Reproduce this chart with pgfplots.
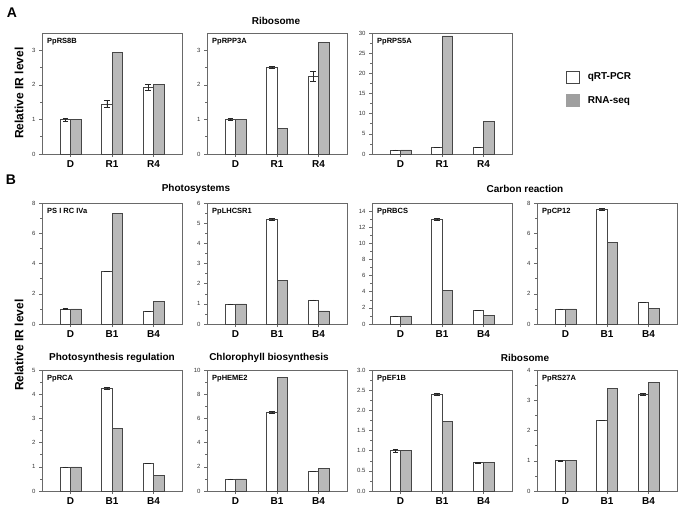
\documentclass[border=0pt]{standalone}
\usepackage{fontspec}
\setmainfont{Liberation Sans}
\usepackage{pgfplots}
\pgfplotsset{compat=1.18}

\definecolor{rnagray}{RGB}{185,185,185}
\definecolor{edgegray}{RGB}{70,70,70}
\definecolor{axisgray}{RGB}{105,105,105}

\newcommand{\fs}[1]{\fontsize{#1}{#1}\selectfont}
\newcommand{\pname}[1]{\node[anchor=north west, inner sep=0pt, font=\fs{7.5}\bfseries]
  at ([xshift=5pt,yshift=-5pt]rel axis cs:0,1) {#1};}

\pgfplotsset{
  panel/.style={
    scale only axis, width=140pt, height=121pt, anchor=south west,
    xmin=-0.69, xmax=2.69, ymin=0,
    ybar, bar width=10.5pt,
    xtick={0,1,2},
    xtick pos=lower, ytick pos=left,
    tick align=outside,
    major tick length=3pt, minor tick length=1.8pt,
    minor y tick num=1,
    axis line style={axisgray, line width=0.6pt},
    every tick/.style={axisgray, line width=0.5pt},
    x tick label style={font=\fs{10}\bfseries},
    y tick label style={font=\fs{6}, text=black!80},
    /pgf/number format/assume math mode=true,
    clip=false,
  },
  qrt/.style={fill=white, draw=edgegray, line width=0.6pt, bar shift=-5.25pt, forget plot,
    error bars/.cd, y dir=both, y explicit,
    error bar style={line width=0.5pt, black!85},
    error mark options={rotate=90, mark size=2.8pt, line width=0.5pt, black!85}},
  rna/.style={fill=rnagray, draw=edgegray, line width=0.6pt, bar shift=5.25pt, forget plot},
}

\begin{document}
\begin{tikzpicture}
\path[use as bounding box] (0pt,0pt) rectangle (685pt,512pt);

% ---------------- A ----------------
\node[font=\fs{14}\bfseries] at (12pt,499pt) {A};
\node[font=\fs{10}\bfseries] at (276pt,491pt) {Ribosome};
\node[font=\fs{12}\bfseries, rotate=90] at (19pt,419pt) {Relative IR level};

\begin{axis}[panel, at={(42pt,358pt)}, ymax=3.5, ytick={0,1,2,3}, xticklabels={D,R1,R4}]
\addplot[qrt] coordinates {(0,1.00) +- (0,0.04) (1,1.45) +- (0,0.10) (2,1.93) +- (0,0.10)};
\addplot[rna] coordinates {(0,1.00) (1,2.95) (2,2.01)};
\pname{PpRS8B}
\end{axis}

\begin{axis}[panel, at={(207pt,358pt)}, ymax=3.5, ytick={0,1,2,3}, xticklabels={D,R1,R4}]
\addplot[qrt] coordinates {(0,1.00) +- (0,0.02) (1,2.50) +- (0,0.03) (2,2.25) +- (0,0.14)};
\addplot[rna] coordinates {(0,1.00) (1,0.75) (2,3.22)};
\pname{PpRPP3A}
\end{axis}

\begin{axis}[panel, at={(372pt,358pt)}, ymax=30, ytick={0,5,...,30}, xticklabels={D,R1,R4},
  legend style={at={(1.386,0.69)}, anchor=north west, draw=none, fill=none, inner sep=0pt,
    row sep=11pt, font=\fs{10}\bfseries, legend cell align=left,
    /tikz/every odd column/.append style={column sep=6pt}}]
\addplot[qrt] coordinates {(0,1.0) +- (0,0) (1,1.6) +- (0,0) (2,1.6) +- (0,0)};
\addplot[rna] coordinates {(0,1.0) (1,29.3) (2,8.1)};
\addlegendimage{legend image code/.code={\draw[fill=white, draw=edgegray, line width=0.6pt] (0pt,-6pt) rectangle (13pt,6pt);}}
\addlegendentry{qRT-PCR}
\addlegendimage{legend image code/.code={\draw[fill=gray!75, draw=gray!75] (0pt,-6pt) rectangle (13pt,6pt);}}
\addlegendentry{RNA-seq}
\pname{PpRPS5A}
\end{axis}

% ---------------- B ----------------
\node[font=\fs{14}\bfseries] at (11pt,332pt) {B};
\node[font=\fs{10}\bfseries] at (196pt,323pt) {Photosystems};
\node[font=\fs{10}\bfseries] at (525pt,323pt) {Carbon reaction};
\node[font=\fs{10}\bfseries] at (112pt,154pt) {Photosynthesis regulation};
\node[font=\fs{10}\bfseries] at (269pt,154pt) {Chlorophyll biosynthesis};
\node[font=\fs{10}\bfseries] at (525pt,154pt) {Ribosome};
\node[font=\fs{12}\bfseries, rotate=90] at (19pt,167pt) {Relative IR level};

\begin{axis}[panel, at={(42pt,188pt)}, ymax=8, ytick={0,2,...,8}, xticklabels={D,B1,B4}]
\addplot[qrt] coordinates {(0,1.00) +- (0,0.03) (1,3.50) +- (0,0) (2,0.85) +- (0,0)};
\addplot[rna] coordinates {(0,1.00) (1,7.30) (2,1.50)};
\pname{PS I RC IVa}
\end{axis}

\begin{axis}[panel, at={(207pt,188pt)}, ymax=6, ytick={0,1,...,6}, xticklabels={D,B1,B4}]
\addplot[qrt] coordinates {(0,1.00) +- (0,0) (1,5.20) +- (0,0.04) (2,1.20) +- (0,0)};
\addplot[rna] coordinates {(0,1.00) (1,2.15) (2,0.65)};
\pname{PpLHCSR1}
\end{axis}

\begin{axis}[panel, at={(372pt,188pt)}, ymax=15, ytick={0,2,...,14}, xticklabels={D,B1,B4}]
\addplot[qrt] coordinates {(0,1.00) +- (0,0) (1,13.0) +- (0,0.10) (2,1.70) +- (0,0)};
\addplot[rna] coordinates {(0,1.00) (1,4.20) (2,1.05)};
\pname{PpRBCS}
\end{axis}

\begin{axis}[panel, at={(537pt,188pt)}, ymax=8, ytick={0,2,...,8}, xticklabels={D,B1,B4}]
\addplot[qrt] coordinates {(0,1.00) +- (0,0) (1,7.60) +- (0,0.05) (2,1.45) +- (0,0)};
\addplot[rna] coordinates {(0,1.00) (1,5.40) (2,1.05)};
\pname{PpCP12}
\end{axis}

\begin{axis}[panel, at={(42pt,21pt)}, ymax=5, ytick={0,1,...,5}, xticklabels={D,B1,B4}]
\addplot[qrt] coordinates {(0,1.00) +- (0,0) (1,4.25) +- (0,0.03) (2,1.15) +- (0,0)};
\addplot[rna] coordinates {(0,1.00) (1,2.60) (2,0.65)};
\pname{PpRCA}
\end{axis}

\begin{axis}[panel, at={(207pt,21pt)}, ymax=10, ytick={0,2,...,10}, xticklabels={D,B1,B4}]
\addplot[qrt] coordinates {(0,1.00) +- (0,0) (1,6.50) +- (0,0.08) (2,1.60) +- (0,0)};
\addplot[rna] coordinates {(0,1.00) (1,9.40) (2,1.85)};
\pname{PpHEME2}
\end{axis}

\begin{axis}[panel, at={(372pt,21pt)}, ymax=3, ytick={0,0.5,...,3}, xticklabels={D,B1,B4},
  yticklabel style={/pgf/number format/.cd, fixed, fixed zerofill, precision=1}]
\addplot[qrt] coordinates {(0,1.00) +- (0,0.03) (1,2.40) +- (0,0.03) (2,0.70) +- (0,0.01)};
\addplot[rna] coordinates {(0,1.00) (1,1.73) (2,0.70)};
\pname{PpEF1B}
\end{axis}

\begin{axis}[panel, at={(537pt,21pt)}, ymax=4, ytick={0,1,...,4}, xticklabels={D,B1,B4}]
\addplot[qrt] coordinates {(0,1.00) +- (0,0.02) (1,2.33) +- (0,0) (2,3.20) +- (0,0.03)};
\addplot[rna] coordinates {(0,1.00) (1,3.38) (2,3.58)};
\pname{PpRS27A}
\end{axis}

\end{tikzpicture}
\end{document}
